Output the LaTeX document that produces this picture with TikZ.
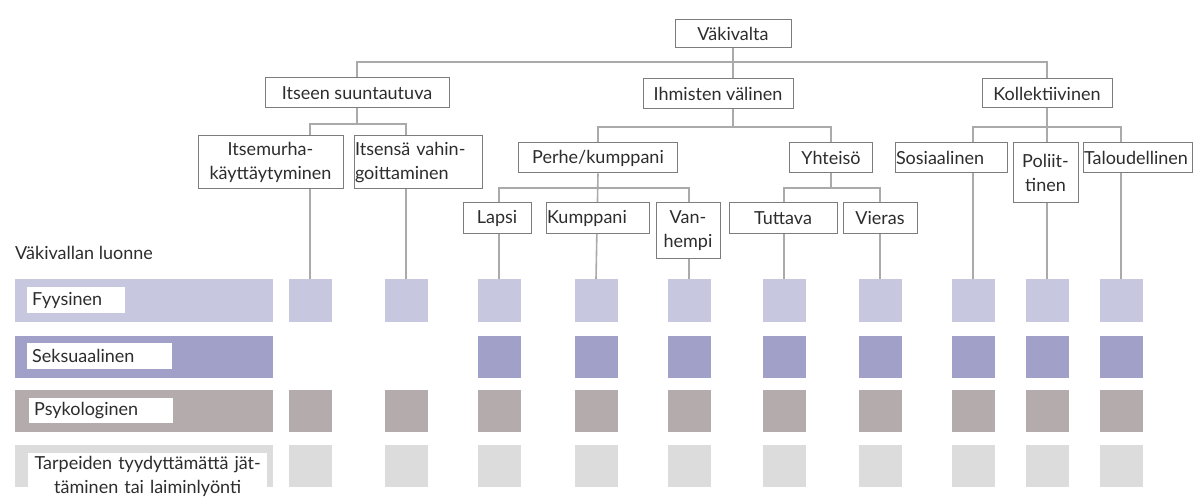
\documentclass[tikz,border=0pt]{standalone}
\usepackage{fontspec}
\setmainfont{Lato}
\usetikzlibrary{backgrounds}

\definecolor{linegray}{RGB}{170,170,170}
\definecolor{boxgray}{RGB}{125,125,125}
\definecolor{txtgray}{RGB}{45,45,45}
\definecolor{fyyscol}{RGB}{199,199,223}
\definecolor{sekscol}{RGB}{160,160,200}
\definecolor{psykcol}{RGB}{180,172,172}
\definecolor{tarpcol}{RGB}{220,220,220}

\tikzset{
    luokka/.style={draw=boxgray, fill=white, line width=1pt, text=txtgray, inner sep=1pt,
        font=\fontsize{18}{24}\selectfont},
    haara/.style={draw=linegray, line width=1.6pt},
    ruutu/.style={minimum width=43pt, minimum height=42pt, inner sep=0pt},
    palkki/.style={minimum width=258pt, minimum height=42pt, inner sep=0pt, anchor=west},
    nimi/.style={fill=white, text=txtgray, inner ysep=0pt, inner xsep=5pt, anchor=north west,
        align=left, font=\fontsize{18}{24}\selectfont}
}

\begin{document}
\begin{tikzpicture}[x=1pt,y=-1pt]

                \useasboundingbox (0,0) rectangle (1200,497);

                \node[luokka, minimum width=116pt, minimum height=28pt] (vak) at (733,34) {Väkivalta};

                \node[luokka, minimum width=184pt, minimum height=30pt] (itseen) at (357,93) {Itseen suuntautuva};
                \node[luokka, minimum width=150pt, minimum height=30pt] (ihm) at (718,94) {Ihmisten välinen};
                \node[luokka, minimum width=130pt, minimum height=29pt] (kol) at (1047,93.5) {Kollektiivinen};

                \node[luokka, minimum width=145pt, minimum height=53pt, align=center] (murha) at (270.5,162.5) {Itsemurha-\\käyttäytyminen};
                \node[luokka, text width=126pt, minimum height=53pt, align=left] (vahin) at (418,162.5) {Itsensä vahin-\\goittaminen};
                \node[luokka, minimum width=159pt, minimum height=30pt] (perhe) at (598,158) {Perhe/kumppani};
                \node[luokka, minimum width=83pt, minimum height=30pt] (yht) at (831,158) {Yhteisö};
                \node[luokka, text width=110pt, minimum height=30pt, align=left] (sos) at (951,158) {Sosiaalinen};
                \node[luokka, minimum width=65pt, minimum height=60pt, align=center] (pol) at (1045.5,173) {Poliit-\\tinen};
                \node[luokka, text width=107pt, minimum height=30pt, align=left] (tal) at (1137.5,158) {Taloudellinen};

                \node[luokka, minimum width=68pt, minimum height=31pt] (lapsi) at (497,218.5) {Lapsi};
                \node[luokka, text width=101pt, minimum height=31pt, align=left] (kump) at (597.5,218.5) {Kumppani};
                \node[luokka, minimum width=64pt, minimum height=56pt, align=center] (vanh) at (688,231) {Van-\\hempi};
                \node[luokka, minimum width=108pt, minimum height=31pt] (tutt) at (783,218.5) {Tuttava};
                \node[luokka, minimum width=74pt, minimum height=31pt] (vier) at (880,218.5) {Vieras};

                \node[anchor=base west, text=txtgray, inner sep=0pt, font=\fontsize{18}{24}\selectfont] (luonne) at (15,260) {Väkivallan luonne};

                \foreach \r/\y/\c in {1/300.5/fyyscol,2/356.5/sekscol,3/411/psykcol,4/466/tarpcol}
                    \node[palkki, fill=\c] (palkki\r) at (15,\y) {};

                \foreach \r/\y/\c in {1/300.5/fyyscol,3/411/psykcol,4/466/tarpcol}
                    \foreach \k/\x in {1/310,2/406,3/499,4/596,5/689,6/784,7/880,8/973,9/1047,10/1121}
                        \node[ruutu, fill=\c] (sq\r-\k) at (\x,\y) {};
                \foreach \k/\x in {3/499,4/596,5/689,6/784,7/880,8/973,9/1047,10/1121}
                    \node[ruutu, fill=sekscol] (sq2-\k) at (\x,356.5) {};

                \node[nimi, text width=88pt, minimum height=26pt] (fyys) at (27,287) {Fyysinen};
                \node[nimi, text width=135pt, minimum height=26pt] (seks) at (27,343) {Seksuaalinen};
                \node[nimi, text width=134pt, minimum height=25pt] (psyk) at (29,398) {Psykologinen};
                \node[nimi, text width=229pt, inner ysep=3pt, align=center] (tarp) at (28,453) {Tarpeiden tyydyttämättä jät-\\täminen tai laiminlyönti};

                \coordinate (vak-j) at (733,62);
                \coordinate (ihm-j) at (733,127);
                \coordinate (itseen-j) at (357,124);
                \coordinate (perhe-j) at (596,188);
                \coordinate (yht-j) at (831,188);
                \coordinate (kol-j) at (1047,127);

                \begin{scope}[on background layer]
                \draw[haara] (itseen.north) |- (vak-j) -| (kol.north);
                \draw[haara] (vak.south) -- (ihm-j);
                \draw[haara] (perhe.north) |- (ihm-j) -| (yht.north);
                \draw[haara] (itseen.south) -- (itseen-j);
                \draw[haara] (sq1-1.north) |- (itseen-j) -| (sq1-2.north);
                \draw[haara] (perhe.south) -- (sq1-4.north);
                \draw[haara] (sq1-3.north) |- (perhe-j) -| (sq1-5.north);
                \draw[haara] (yht.south) -- (yht-j);
                \draw[haara] (sq1-6.north) |- (yht-j) -| (sq1-7.north);
                \draw[haara] (kol.south) -- (sq1-9.north);
                \draw[haara] (sq1-8.north) |- (kol-j) -| (sq1-10.north);
                \end{scope}

            \end{tikzpicture}
\end{document}
